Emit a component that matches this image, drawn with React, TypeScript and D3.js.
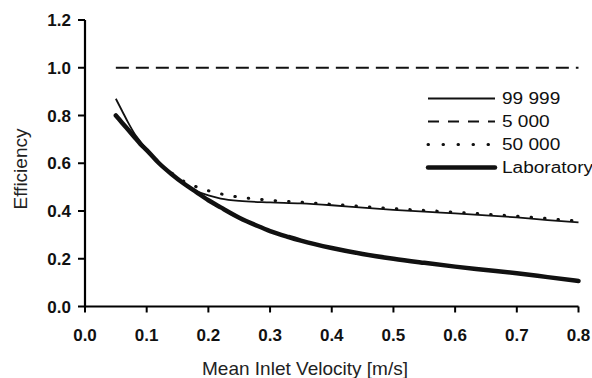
import React from "react";
import * as d3 from "d3";

const xTicks = [0.0, 0.1, 0.2, 0.3, 0.4, 0.5, 0.6, 0.7, 0.8];
const yTicks = [0.0, 0.2, 0.4, 0.6, 0.8, 1.0, 1.2];

const labX = [0.05, 0.06, 0.07, 0.08, 0.09, 0.1, 0.12, 0.14, 0.16, 0.18, 0.2, 0.22, 0.25, 0.28, 0.3, 0.33, 0.35, 0.4, 0.45, 0.5, 0.55, 0.6, 0.65, 0.7, 0.75, 0.8];
const labY = [0.8, 0.77, 0.74, 0.71, 0.68, 0.655, 0.6, 0.555, 0.515, 0.48, 0.445, 0.415, 0.372, 0.337, 0.316, 0.291, 0.276, 0.245, 0.22, 0.2, 0.183, 0.167, 0.153, 0.139, 0.123, 0.107];

const s99X = [0.05, 0.06, 0.07, 0.08, 0.09, 0.1, 0.12, 0.14, 0.16, 0.18, 0.2, 0.22, 0.25, 0.3, 0.35, 0.4, 0.45, 0.5, 0.55, 0.6, 0.65, 0.7, 0.75, 0.8];
const s99Y = [0.87, 0.82, 0.77, 0.725, 0.69, 0.655, 0.6, 0.555, 0.515, 0.485, 0.465, 0.452, 0.442, 0.436, 0.432, 0.424, 0.414, 0.405, 0.397, 0.39, 0.382, 0.373, 0.362, 0.352];

const s50X = [0.05, 0.07, 0.1, 0.12, 0.14, 0.16, 0.18, 0.2, 0.22, 0.25, 0.27, 0.3, 0.35, 0.4, 0.5, 0.6, 0.7, 0.8];
const s50Y = [0.8, 0.74, 0.655, 0.6, 0.56, 0.525, 0.502, 0.485, 0.472, 0.458, 0.452, 0.445, 0.437, 0.428, 0.41, 0.395, 0.378, 0.358];

const s5kX = [0.05, 0.8];
const s5kY = [1.0, 1.0];

const legendLabels = ["99 999", "5 000", "50 000", "Laboratory"];

const FONT = "'Liberation Sans', Arial, sans-serif";

export default function App() {
  const x = d3.scaleLinear().domain([0, 0.8]).range([85, 578.5]);
  const y = d3.scaleLinear().domain([0, 1.2]).range([306.5, 20]);
  const line = (xs: number[], ys: number[]) =>
    d3.line<number>().x((d, i) => x(xs[i])).y((d) => y(d)).curve(d3.curveMonotoneX)(ys) as string;

  const styles = [
    { stroke: "#111", width: 1.8, dash: undefined as string | undefined, cap: "butt" },
    { stroke: "#111", width: 2.2, dash: "13,7", cap: "butt" },
    { stroke: "#111", width: 3, dash: "0.5,13", cap: "round" },
    { stroke: "#111", width: 4.5, dash: undefined, cap: "round" },
  ];

  return (
    <svg width={592} height={378} style={{ position: "absolute", left: 0, top: 0, background: "#fff" }}>
      {/* axes */}
      <line x1={x(0)} x2={x(0)} y1={y(1.2)} y2={y(0) + 1} stroke="#000" strokeWidth={2.2} />
      <line x1={x(0) - 1} x2={x(0.8)} y1={y(0)} y2={y(0)} stroke="#000" strokeWidth={2.2} />
      {yTicks.map((t) => (
        <g key={"y" + t}>
          <line x1={x(0) - 7} x2={x(0)} y1={y(t)} y2={y(t)} stroke="#000" strokeWidth={2} />
          <text x={71} y={y(t) + 6} textAnchor="end" fontFamily={FONT} fontWeight="bold" fontSize={17} fill="#111">
            {t.toFixed(1)}
          </text>
        </g>
      ))}
      {xTicks.map((t) => (
        <g key={"x" + t}>
          <line x1={x(t)} x2={x(t)} y1={y(0)} y2={y(0) + 6} stroke="#000" strokeWidth={2} />
          <text x={x(t)} y={340.5} textAnchor="middle" fontFamily={FONT} fontWeight="bold" fontSize={17} fill="#111">
            {t.toFixed(1)}
          </text>
        </g>
      ))}
      <text x={305} y={375} textAnchor="middle" fontFamily={FONT} fontSize={19} fill="#222">
        Mean Inlet Velocity [m/s]
      </text>
      <text transform="translate(26.5,169) rotate(-90)" textAnchor="middle" fontFamily={FONT} fontSize={19} fill="#222">
        Efficiency
      </text>

      {/* series */}
      <path d={line(s5kX, s5kY)} fill="none" stroke={styles[1].stroke} strokeWidth={styles[1].width} strokeDasharray={styles[1].dash} />
      <path d={line(labX, labY)} fill="none" stroke={styles[3].stroke} strokeWidth={styles[3].width} strokeLinecap="round" />
      <path d={line(s50X, s50Y)} fill="none" stroke={styles[2].stroke} strokeWidth={styles[2].width} strokeDasharray={styles[2].dash} strokeLinecap="round" />
      <path d={line(s99X, s99Y)} fill="none" stroke={styles[0].stroke} strokeWidth={styles[0].width} />

      {/* legend */}
      {legendLabels.map((lab, i) => {
        const yy = 98.5 + i * 23;
        const st = styles[i];
        return (
          <g key={lab}>
            <line
              x1={428}
              x2={495}
              y1={yy}
              y2={yy}
              stroke={st.stroke}
              strokeWidth={i === 2 ? 3 : st.width}
              strokeDasharray={i === 1 ? "11,9" : i === 2 ? "0.5,14.5" : undefined}
              strokeLinecap={st.cap as any}
            />
            <text
              transform={`translate(502,${yy + 5.5}) scale(1.19,1)`}
              fontFamily={FONT}
              fontSize={16}
              fill="#111"
            >
              {lab}
            </text>
          </g>
        );
      })}
    </svg>
  );
}
